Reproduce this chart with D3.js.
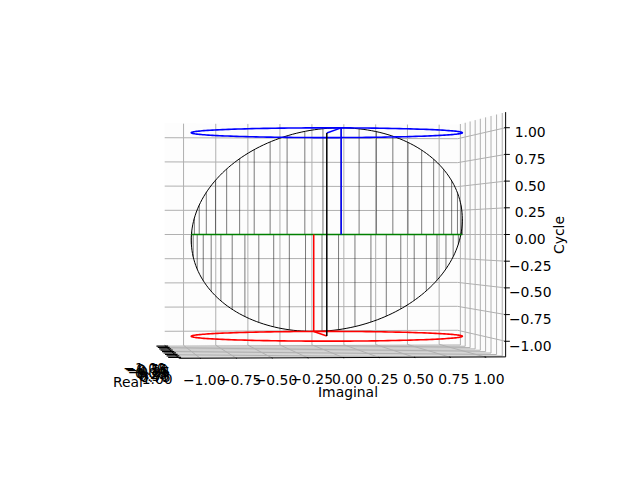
<!DOCTYPE html>
<html><head><meta charset="utf-8">
<script src="https://cdn.jsdelivr.net/npm/d3@7"></script>
<style>
body{margin:0;background:#fff}
svg{display:block}
text{font-family:"DejaVu Sans",sans-serif;font-size:13.9px;fill:#000}
</style>
</head><body>
<svg id="chart" width="640" height="480"></svg>
<script>
// ---------- data ----------
const tickValues = [-1, -0.75, -0.5, -0.25, 0, 0.25, 0.5, 0.75, 1];
const tickLabels = ["−1.00","−0.75","−0.50","−0.25","0.00","0.25","0.50","0.75","1.00"];
const axisNames = ["Real", "Imaginal", "Cycle"];
const circleLevels = [1, 0, -1];             // Cycle level of each horizontal circle
const circleColors = ["#0000ff", "#008000", "#ff0000"];
const radiusEnds = [[1, 0, 1], [-1, 0, -1]]; // radius lines of the top / bottom circle
const radiusColors = ["#0000ff", "#ff0000"];
const stemCount = 50;                        // stems along the tilted unit cycle
const limits = [-1.146, 1.146];              // pane extent (incl. padding)

// ---------- projection ----------
const svg = d3.select("#chart");
const sx = d3.scaleLinear().domain(limits).range([-1, 1]);
const sy = d3.scaleLinear().domain(limits).range([-1, 1]);
const sz = d3.scaleLinear().domain(limits).range([-0.75, 0.75]);
const az = -5.8 * Math.PI / 180, ca = Math.cos(az), sa = Math.sin(az);
const D = 18.2, F = 2824, cx = 326.8, cy = 234.5;
function proj(p) {
  const X = sx(p[0]), Y = sy(p[1]), Z = sz(p[2]);
  const u = -X * sa + Y * ca;
  const d = X * ca + Y * sa;
  const k = F / (D - d);
  return [cx + u * k, cy - Z * k];
}
const line = d3.line().x(p => proj(p)[0]).y(p => proj(p)[1]);
const lo = limits[0], hi = limits[1];

function path(pts, stroke, w, fill) {
  svg.append("path").attr("d", line(pts) + (fill ? "Z" : ""))
    .attr("fill", fill || "none").attr("stroke", stroke).attr("stroke-width", w);
}

// ---------- panes ----------
path([[lo,lo,lo],[lo,hi,lo],[lo,hi,hi],[lo,lo,hi]], "#fdfdfd", 0.5, "#fdfdfd");
path([[lo,hi,lo],[hi,hi,lo],[hi,hi,hi],[lo,hi,hi]], "#fcfcfc", 0.5, "#fcfcfc");
path([[lo,lo,lo],[hi,lo,lo],[hi,hi,lo],[lo,hi,lo]], "#f8f8f8", 0.5, "#f8f8f8");

// ---------- grid ----------
const gridCol = "#b0b0b0";
tickValues.forEach(v => {
  path([[lo, v, hi],[lo, v, lo],[hi, v, lo]], gridCol, 1);   // imaginal
  path([[lo, lo, v],[lo, hi, v],[hi, hi, v]], gridCol, 1);   // cycle
  path([[v, lo, lo],[v, hi, lo],[v, hi, hi]], gridCol, 1);   // real
});

// ---------- axis lines ----------
path([[lo,lo,lo],[hi,lo,lo]], "#000", 1);
path([[hi,lo,lo],[hi,hi,lo]], "#000", 1);
path([[hi,hi,lo],[hi,hi,hi]], "#000", 1);

// ticks
tickValues.forEach(v => {
  path([[v, lo + 0.02, lo],[v, lo - 0.07, lo]], "#000", 1.2);
  path([[hi - 0.02, v, lo],[hi + 0.05, v, lo]], "#000", 1);
  path([[hi, hi - 0.01, v],[hi, hi + 0.03, v]], "#000", 1);
});

// tick labels
tickValues.forEach((v, i) => {
  const pr = proj([v, lo, lo]);
  svg.append("text").attr("x", pr[0] - 21).attr("y", pr[1] + 21.5).attr("dy", "0.36em")
    .attr("text-anchor", "middle").text(tickLabels[i]);
});
tickValues.forEach((v, i) => {
  const pr = proj([hi, v, lo]);
  svg.append("text").attr("x", pr[0] + 4).attr("y", pr[1] + 21.7).attr("dy", "0.36em")
    .attr("text-anchor", "middle").text(tickLabels[i]);
});
tickValues.forEach((v, i) => {
  const pr = proj([hi, hi, v]);
  svg.append("text").attr("x", pr[0] + 24.6).attr("y", pr[1] + 4.5).attr("dy", "0.36em")
    .attr("text-anchor", "middle").text(tickLabels[i]);
});

// axis labels
svg.append("text").attr("x", 128).attr("y", 387).attr("text-anchor", "middle").text(axisNames[0]);
svg.append("text").attr("x", 348).attr("y", 397).attr("text-anchor", "middle").text(axisNames[1]);
svg.append("text").attr("transform", "translate(564,235) rotate(-90)").attr("text-anchor", "middle").text(axisNames[2]);

// ---------- data ----------
const fine = d3.range(0, 201).map(i => i / 200 * 2 * Math.PI);
// stems from the level-0 circle to the tilted cycle
d3.range(stemCount).forEach(i => {
  const t = i / (stemCount - 1) * 2 * Math.PI;
  const x = Math.cos(t), y = Math.sin(t);
  path([[x, y, 0],[x, y, x]], "#222", 0.6);
});
// tilted cycle
path(fine.map(t => [Math.cos(t), Math.sin(t), Math.cos(t)]), "#000", 1);
// horizontal circles
circleLevels.forEach((L, i) => {
  path(fine.map(t => [Math.cos(t), Math.sin(t), L]), circleColors[i], 1.6);
});
// radius lines and verticals
radiusEnds.forEach((e, i) => {
  path([[0, 0, e[2]], e], radiusColors[i], 1.5);
  path([[e[0], 0, 0], e], radiusColors[i], 1.5);
});
path([[0, 0, -1],[0, 0, 1]], "#000", 1.5);
</script>
</body></html>
